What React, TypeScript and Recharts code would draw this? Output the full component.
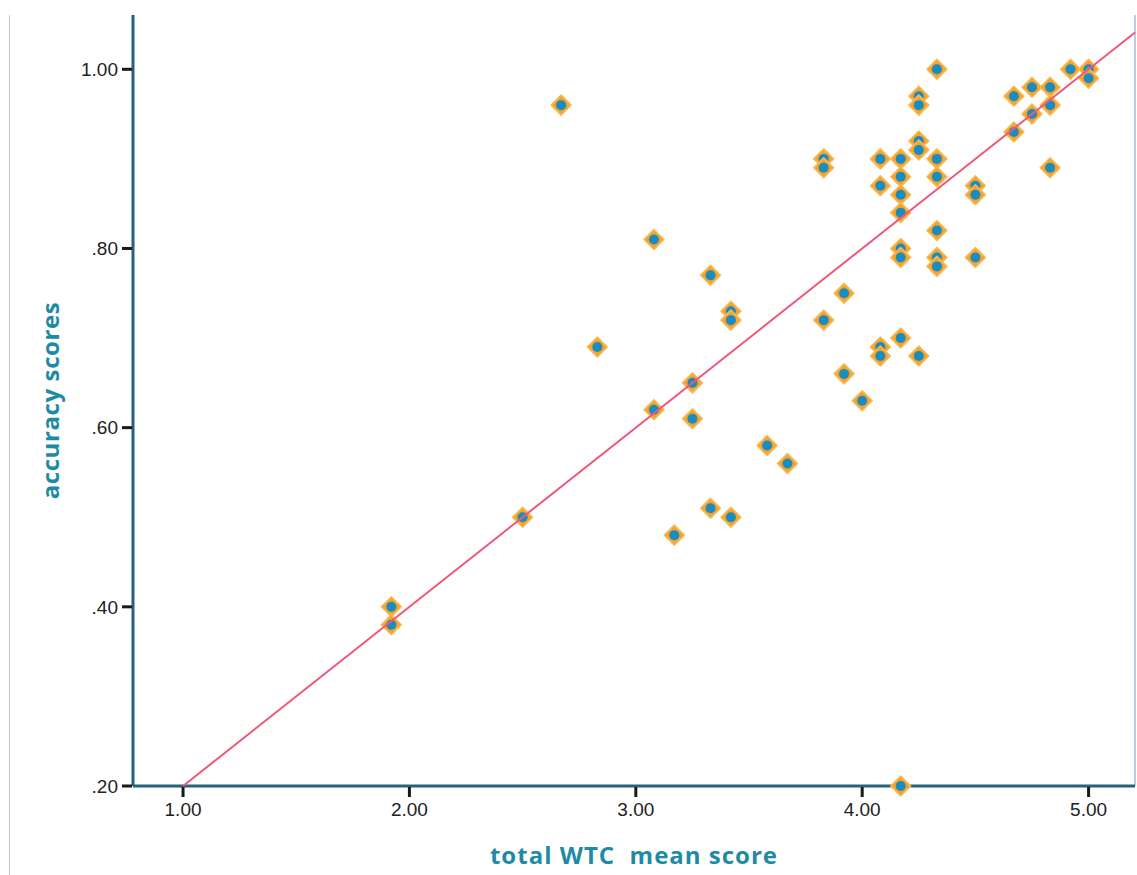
import { ScatterChart, Scatter, XAxis, YAxis, ReferenceLine } from 'recharts'

// total WTC mean score
const wtcScores = [
  1.92, 1.92, 2.5, 2.67, 2.83, 3.08, 3.08, 3.17, 3.25, 3.25,
  3.33, 3.33, 3.42, 3.42, 3.42, 3.58, 3.67, 3.83, 3.83, 3.83,
  3.92, 3.92, 4.0, 4.08, 4.08, 4.08, 4.08, 4.17, 4.17, 4.17,
  4.17, 4.17, 4.17, 4.17, 4.17, 4.25, 4.25, 4.25, 4.25, 4.25,
  4.33, 4.33, 4.33, 4.33, 4.33, 4.33, 4.5, 4.5, 4.5, 4.67,
  4.67, 4.75, 4.75, 4.83, 4.83, 4.83, 4.92, 5.0, 5.0,
]

// accuracy scores
const accuracyScores = [
  0.4, 0.38, 0.5, 0.96, 0.69, 0.81, 0.62, 0.48, 0.65, 0.61,
  0.77, 0.51, 0.73, 0.72, 0.5, 0.58, 0.56, 0.9, 0.89, 0.72,
  0.75, 0.66, 0.63, 0.9, 0.87, 0.69, 0.68, 0.9, 0.88, 0.86,
  0.84, 0.8, 0.79, 0.7, 0.2, 0.97, 0.96, 0.92, 0.91, 0.68,
  1.0, 0.9, 0.88, 0.82, 0.79, 0.78, 0.87, 0.86, 0.79, 0.97,
  0.93, 0.98, 0.95, 0.98, 0.96, 0.89, 1.0, 1.0, 0.99,
]

const xTicks = [1, 2, 3, 4, 5]
const yTicks = [0.2, 0.4, 0.6, 0.8, 1.0]
const xDomain = [0.779, 5.205]
const yDomain = [0.2, 1.0606]

// linear fit line: accuracy = 0.2 * wtc + 0.0
const fitSlope = 0.2
const fitIntercept = 0
const fitRange = [1, 5.205]

const points = wtcScores.map((x, i) => ({ x, y: accuracyScores[i] }))
const fitLine = fitRange.map((x) => ({ x, y: fitSlope * x + fitIntercept }))
// tick marks, placed on the axes through the chart scales
const xTickMarks = xTicks.map((x) => ({ x, y: yDomain[0] }))
const yTickMarks = yTicks.map((y) => ({ x: xDomain[0], y }))

const axisColor = '#24637a'
const titleColor = '#1e8aa6'
const tickFont = { fontSize: 19, fill: '#222', fontFamily: 'Liberation Sans, Arial, sans-serif' }
const titleFont = {
  fontSize: 24,
  fontWeight: 700,
  fill: titleColor,
  fontFamily: 'Open Sans, sans-serif',
}

const fmtX = (v: number) => v.toFixed(2)
const fmtY = (v: number) => (v >= 1 ? v.toFixed(2) : v.toFixed(2).replace(/^0/, ''))

function XTickMark(props: any) {
  const { cx, cy } = props
  if (cx == null || cy == null) return null
  return <rect x={cx - 1.5} y={cy + 1} width={3} height={10} fill="#1a1a1a" />
}

function YTickMark(props: any) {
  const { cx, cy } = props
  if (cx == null || cy == null) return null
  return <rect x={cx - 11} y={cy - 1.5} width={10} height={3} fill="#1a1a1a" />
}

function Marker(props: any) {
  const { cx, cy } = props
  if (cx == null || cy == null) return null
  const r = 10
  return (
    <g>
      <polygon
        points={`${cx},${cy - r} ${cx + r},${cy} ${cx},${cy + r} ${cx - r},${cy}`}
        fill="#f5a42a"
        stroke="#f8b95a"
        strokeWidth={1.5}
        strokeLinejoin="round"
      />
      <circle cx={cx} cy={cy} r={5} fill="#1b8cc0" />
    </g>
  )
}

export default function App() {
  return (
    <div style={{ position: 'absolute', left: 0, top: 0, width: 1137, height: 875, background: '#fff' }}>
      <div style={{ position: 'absolute', left: 9, top: 15, width: 1, height: 860, background: '#c4c4c4' }} />
      <ScatterChart width={1137} height={875} margin={{ top: 15, right: 2, bottom: 9, left: 0 }}>
        <XAxis
          type="number"
          dataKey="x"
          domain={xDomain}
          ticks={xTicks}
          tickFormatter={fmtX}
          axisLine={{ stroke: axisColor, strokeWidth: 3 }}
          tickLine={false}
          tickSize={10}
          tickMargin={7}
          tick={tickFont}
          height={80}
          label={{
            value: 'total WTC\u00a0 mean score',
            position: 'insideBottom',
            offset: 2,
            style: { ...titleFont, letterSpacing: 1 },
          }}
        />
        <YAxis
          type="number"
          dataKey="y"
          domain={yDomain}
          ticks={yTicks}
          tickFormatter={fmtY}
          axisLine={{ stroke: axisColor, strokeWidth: 3 }}
          tickLine={false}
          tickSize={10}
          tickMargin={5}
          tick={tickFont}
          width={133}
          label={{
            value: 'accuracy scores',
            angle: -90,
            position: 'insideLeft',
            offset: 50,
            textAnchor: 'middle',
            style: { ...titleFont, letterSpacing: 0.6, textAnchor: 'middle' },
          }}
        />
        <ReferenceLine x={xDomain[1]} stroke="#c0ccd8" strokeWidth={2} />
        <Scatter data={points} shape={<Marker />} isAnimationActive={false} />
        <Scatter
          data={fitLine}
          line={{ stroke: '#ef5878', strokeWidth: 2 }}
          shape={() => <g />}
          isAnimationActive={false}
        />
        <Scatter data={xTickMarks} shape={XTickMark} isAnimationActive={false} />
        <Scatter data={yTickMarks} shape={YTickMark} isAnimationActive={false} />
      </ScatterChart>
    </div>
  )
}
